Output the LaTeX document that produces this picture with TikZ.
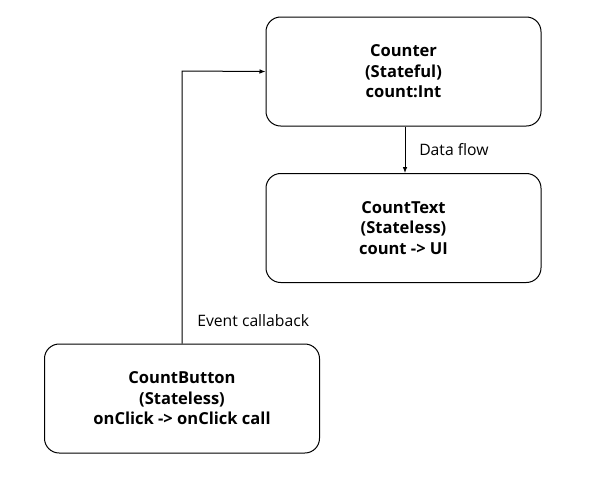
\documentclass[tikz,border=0pt]{standalone}
\usepackage{fontspec}
\setmainfont{Open Sans}
\usetikzlibrary{arrows.meta}
\begin{document}
\begin{tikzpicture}[x=0.75pt,y=-0.75pt,
  box/.style={draw=black,line width=0.75pt,rounded corners=11pt,minimum width=275*0.75pt,minimum height=109*0.75pt,align=center,font=\bfseries\fontsize{12.4pt}{15.4pt}\selectfont,inner sep=0pt},
  conn/.style={line width=0.75pt,-{Latex[length=4.5pt,width=3.5pt]}},
  lbl/.style={font=\fontsize{11.8pt}{14pt}\selectfont,inner sep=0pt,anchor=west}]
\useasboundingbox (0,0) rectangle (590,480);
\node[box] (counter) at (403.5,71.5) {Counter\\(Stateful)\\count:Int};
\node[box] (text) at (403.5,228) {CountText\\(Stateless)\\count -> UI};
\node[box] (button) at (182,398.5) {CountButton\\(Stateless)\\onClick -> onClick call};
\draw[conn] (counter.south -| 405,0) -- (text.north -| 405,0);
\coordinate (corner) at (182,71);
\draw[conn] (button.north) -- (corner) -- (counter.west);
\node[lbl] (df) at (419,150) {Data flow};
\node[lbl] (ec) at (197,321) {Event callaback};
\end{tikzpicture}
\end{document}
